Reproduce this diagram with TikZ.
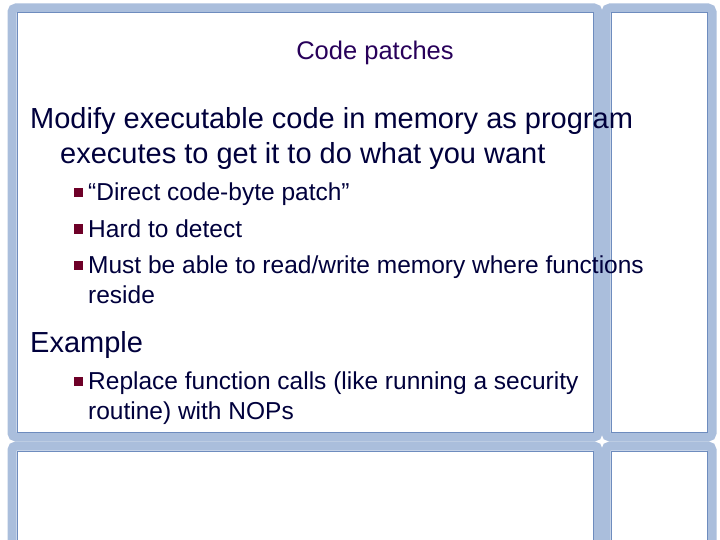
\documentclass[tikz,border=0pt]{standalone}
\usepackage{fontspec}
\setmainfont{Liberation Sans}
\definecolor{fr}{RGB}{170,190,220}
\definecolor{frd}{RGB}{110,140,190}
\definecolor{txt}{RGB}{0,0,60}
\definecolor{ttl}{RGB}{40,0,90}
\definecolor{bul}{RGB}{110,0,40}
\begin{document}
\begin{tikzpicture}[x=1pt,y=-1pt,
  panel/.style={draw=fr,line width=9pt,rounded corners=4pt},
  paneledge/.style={draw=frd,line width=1pt},
  t/.style={anchor=base west,inner sep=0pt,text=txt},
  bt/.style={t,font=\fontsize{24.5}{29}\selectfont},
  mt/.style={t,font=\fontsize{29}{34}\selectfont},
  sq/.style={fill=bul,minimum size=9pt,inner sep=0pt}]
\useasboundingbox (0,0) rectangle (720,540);
\fill[white] (0,0) rectangle (720,540);
\foreach \a/\b/\c/\d/\n in {12/8/598/437/A,606/8/712/437/B,12/446/598/560/C,606/446/712/560/D}{
  \draw[panel] (\a,\b) rectangle (\c,\d);
  \draw[paneledge] (\a+5,\b+5) rectangle (\c-5,\d-5);
}
\node[anchor=base,inner sep=0pt,text=ttl,font=\fontsize{25.5}{30}\selectfont] (title) at (375,60) {Code patches};
\node[mt] (m1) at (30,129) {Modify executable code in memory as program};
\node[mt] (m2) at (60,164) {executes to get it to do what you want};
\node[sq] (s1) at (78,193) {}; \node[bt] (b1) at (88,201) {“Direct code-byte patch”};
\node[sq] (s2) at (78,229) {}; \node[bt] (b2) at (88,237) {Hard to detect};
\node[sq] (s3) at (78,265) {}; \node[bt] (b3) at (88,273) {Must be able to read/write memory where functions};
\node[bt] (b4) at (88,303) {reside};
\node[mt] (m3) at (30,352) {Example};
\node[sq] (s4) at (78,381) {}; \node[bt] (b5) at (88,389) {Replace function calls (like running a security};
\node[bt] (b6) at (88,419) {routine) with NOPs};
\end{tikzpicture}
\end{document}
